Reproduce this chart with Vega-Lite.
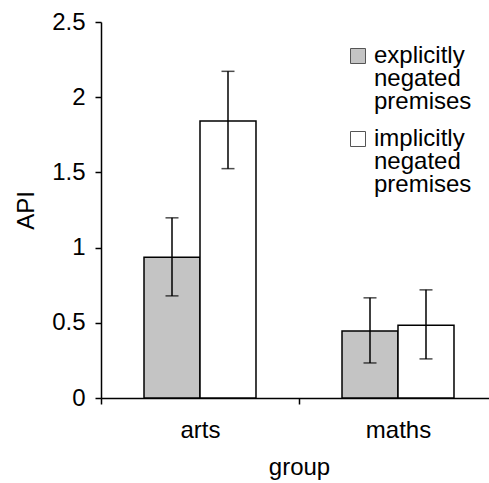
{
  "$schema": "https://vega.github.io/schema/vega-lite/v6.json",
  "autosize": "none",
  "width": 396,
  "height": 376,
  "padding": {"left": 101, "top": 22, "right": 0, "bottom": 85},
  "background": "white",
  "config": {
    "view": {"stroke": null},
    "font": "Liberation Sans",
    "axis": {
      "domainColor": "black", "domainWidth": 1.5, "tickColor": "black", "tickWidth": 1.5, "tickSize": 6,
      "labelFont": "Liberation Sans", "labelFontSize": 24, "labelColor": "black",
      "titleFont": "Liberation Sans", "titleFontSize": 24, "titleFontWeight": "normal", "titleColor": "black",
      "grid": false
    }
  },
  "data": {
    "values": [
      {"group": "arts", "premise": "explicit", "mean": 0.936, "lo": 0.679, "hi": 1.198},
      {"group": "arts", "premise": "implicit", "mean": 1.842, "lo": 1.525, "hi": 2.172},
      {"group": "maths", "premise": "explicit", "mean": 0.446, "lo": 0.233, "hi": 0.666},
      {"group": "maths", "premise": "implicit", "mean": 0.483, "lo": 0.26, "hi": 0.719}
    ]
  },
  "encoding": {
    "x": {
      "field": "group", "type": "nominal", "title": "group",
      "scale": {"paddingInner": 0, "paddingOuter": 0},
      "axis": {"labelAngle": 0, "tickBand": "extent", "labelPadding": 14, "titlePadding": 13}
    },
    "xOffset": {"field": "premise", "type": "nominal", "scale": {"paddingInner": 0, "paddingOuter": 0.768}}
  },
  "layer": [
    {
      "mark": {"type": "bar", "stroke": "black", "strokeWidth": 1.5},
      "encoding": {
        "y": {
          "field": "mean", "type": "quantitative", "title": "API",
          "scale": {"domain": [0, 2.5], "nice": false},
          "axis": {"values": [0, 0.5, 1, 1.5, 2, 2.5], "labelPadding": 10, "titlePadding": 13, "labelExpr": "datum.value == 0 ? '0' : format(datum.value, '')"}
        },
        "fill": {
          "field": "premise", "type": "nominal",
          "scale": {"domain": ["explicit", "implicit"], "range": ["#c4c4c4", "#ffffff"]},
          "legend": {
            "title": null, "orient": "none", "legendX": 245, "legendY": 22, "padding": 0,
            "symbolType": "square", "symbolSize": 225, "symbolStrokeColor": "#555555", "symbolStrokeWidth": 1,
            "labelFont": "Liberation Sans", "labelFontSize": 24, "labelColor": "black", "labelLimit": 300,
            "labelBaseline": "top", "labelOffset": 4, "rowPadding": 13,
            "labelExpr": "datum.value == 'explicit' ? ['explicitly', 'negated', 'premises'] : ['implicitly', 'negated', 'premises']",
            "encode": {"labels": {"update": {"lineHeight": {"value": 23}, "dy": {"value": -12}}}}
          }
        }
      }
    },
    {
      "mark": {"type": "rule", "color": "black", "strokeWidth": 1.5},
      "encoding": {
        "y": {"field": "lo", "type": "quantitative"},
        "y2": {"field": "hi"}
      }
    },
    {
      "mark": {"type": "tick", "color": "black", "thickness": 1.5, "size": 13, "orient": "horizontal"},
      "encoding": {"y": {"field": "lo", "type": "quantitative"}}
    },
    {
      "mark": {"type": "tick", "color": "black", "thickness": 1.5, "size": 13, "orient": "horizontal"},
      "encoding": {"y": {"field": "hi", "type": "quantitative"}}
    }
  ]
}
